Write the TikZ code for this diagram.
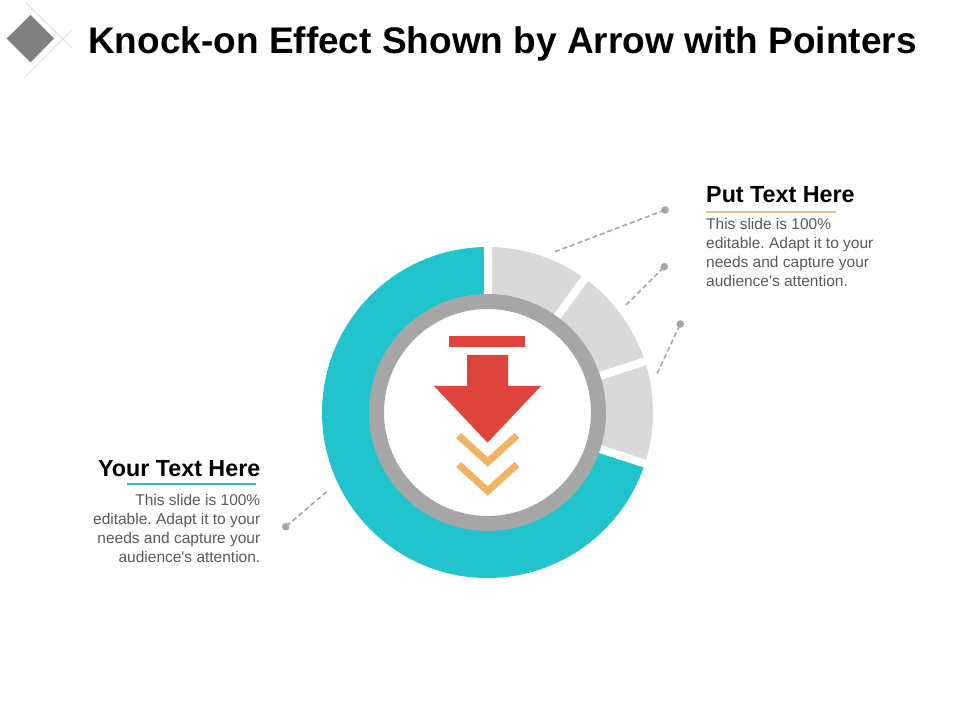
\documentclass[tikz,border=0pt]{standalone}
\usepackage{fontspec}
\setmainfont{Liberation Sans}[Ligatures=TeXOff]
\usetikzlibrary{calc}
\frenchspacing
\definecolor{tealc}{HTML}{21C4CC}
\definecolor{segc}{HTML}{D9D9D9}
\definecolor{ringc}{HTML}{A6A6A6}
\definecolor{redc}{HTML}{DE443B}
\definecolor{orc}{HTML}{F0B464}
\definecolor{dashc}{HTML}{A6A6A6}
\definecolor{bodyc}{HTML}{595959}
\definecolor{tanc}{HTML}{E4C28E}
\definecolor{ulteal}{HTML}{3AB3C6}
\definecolor{logoc}{HTML}{808080}
\definecolor{logol}{HTML}{E0E0E0}
\tikzset{
  pointer/.style={draw=dashc, line width=1.6pt, dash pattern=on 5pt off 3pt},
  tipdot/.style={fill=dashc, draw=none},
  heading/.style={inner sep=0pt, font=\fontsize{23.3}{27}\selectfont\bfseries, text=black},
  body/.style={inner sep=0pt, font=\fontsize{15.5}{19}\selectfont, text=bodyc},
  chev/.style={draw=orc, line width=7pt, line cap=butt, line join=miter},
}
\begin{document}
\begin{tikzpicture}[x=1pt,y=1pt]
\useasboundingbox (0,0) rectangle (960,720);
% logo
\draw[logol, line width=1pt] (25,718) -- (72,672);
\draw[logol, line width=1pt] (25,643) -- (72,690);
\fill[logoc] (6.7,681.5) -- (30.5,705) -- (54,681.5) -- (30.5,657.5) -- cycle;
% title
\node[anchor=base west, inner sep=0pt, font=\fontsize{37}{44}\selectfont\bfseries] (title) at (88,666.7) {Knock-on Effect Shown by Arrow with Pointers};
% donut
\coordinate (C) at (487.5,307.5);
\def\rmid{141.75}
\draw[tealc, line width=47.5pt] ($(C)+(90:\rmid)$) arc[start angle=90, end angle=342, radius=\rmid];
\draw[segc, line width=47.5pt] ($(C)+(-18:\rmid)$) arc[start angle=-18, end angle=90, radius=\rmid];
\foreach \a in {90,54,18,-18}{
  \draw[white, line width=8pt] ($(C)+(\a:105)$) -- ($(C)+(\a:170)$);
}
\fill[white] (C) circle[radius=111];
\draw[ringc, line width=15pt] (C) circle[radius=111];
% red arrow
\fill[redc] (449,384) rectangle (525,373);
\fill[redc] (467,365) -- (508,365) -- (508,334) -- (541,334) -- (487.5,277.3) -- (434,334) -- (467,334) -- cycle;
% chevrons
\draw[chev] (458.5,284.5) -- (487.7,258) -- (517,284.5);
\draw[chev] (458.5,255.5) -- (487.7,229) -- (517,255.5);
% pointers
\coordinate (p1s) at (555,468.3); \coordinate (p1e) at (665,510);
\coordinate (p2s) at (626,415);   \coordinate (p2e) at (664.3,453.3);
\coordinate (p3s) at (657.3,346.7); \coordinate (p3e) at (680.3,396);
\coordinate (p4s) at (326.7,228.3); \coordinate (p4e) at (285.7,193.3);
\foreach \i in {1,2,3,4}{
  \draw[pointer] (p\i s) -- (p\i e);
  \fill[tipdot] (p\i e) circle[radius=3.8];
}
% right text
\node[heading, anchor=base west] (rh) at (706,517) {Put Text Here};
\draw[tanc, line width=2pt] (706,508.3) -- (836,508.3);
\node[body, anchor=base west, align=left] (rb) at (706,433) {This slide is 100\%\\editable. Adapt it to your\\needs and capture your\\audience's attention.};
% left text
\node[heading, anchor=base east] (lh) at (260.5,243.3) {Your Text Here};
\draw[ulteal, line width=2pt] (126.7,236) -- (255.7,236);
\node[body, anchor=base east, align=right] (lb) at (260.5,157.5) {This slide is 100\%\\editable. Adapt it to your\\needs and capture your\\audience's attention.};
\end{tikzpicture}
\end{document}
